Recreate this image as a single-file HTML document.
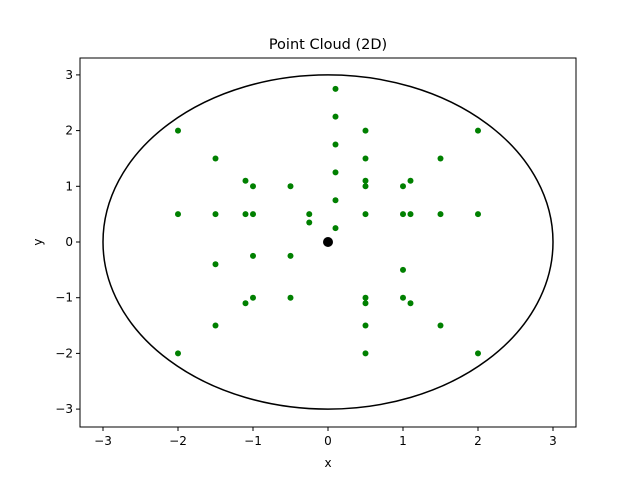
<!DOCTYPE html>
<html><head><meta charset="utf-8"><style>
body{margin:0;background:#fff;font-family:"Liberation Sans","DejaVu Sans",sans-serif}
svg text{font-family:"DejaVu Sans","Liberation Sans",sans-serif}
</style></head><body>
<svg id="chart" width="640" height="480" xmlns="http://www.w3.org/2000/svg">
<rect width="640" height="480" fill="#fff"/>
<text x="328" y="49" font-size="14.5" text-anchor="middle">Point Cloud (2D)</text>
<g id="plot"></g>
<text x="328" y="467" font-size="12" text-anchor="middle">x</text>
<text x="42" y="242" font-size="12" text-anchor="middle" transform="rotate(-90 42 242)">y</text>
</svg>
<script>
const pointsX=[2,-2,-1.5,1.5,-1.1,-1,1,1.1,-0.5,0.1,0.1,0.1,0.1,0.1,0.1,0.5,0.5,0.5,0.5,0.5,-2,-1.5,-1.1,-1,-0.25,-0.25,1,1.1,1.5,2,-1.5,-1,-0.5,1,-0.5,-1,-1.1,1,1.1,0.5,0.5,0.5,0.5,-1.5,1.5,-2,2];
const pointsY=[2,2,1.5,1.5,1.1,1,1,1.1,1,2.75,2.25,1.75,1.25,0.75,0.25,2,1.5,1.1,1,0.5,0.5,0.5,0.5,0.5,0.5,0.35,0.5,0.5,0.5,0.5,-0.4,-0.25,-0.25,-0.5,-1,-1,-1.1,-1,-1.1,-1,-1.1,-1.5,-2,-1.5,-1.5,-2,-2];
const xTicks=[-3,-2,-1,0,1,2,3];
const yTicks=[-3,-2,-1,0,1,2,3];
const circleR=3;
const L=80,R=576,T=58,B=427;
const sx=v=>328+v*75;
const sy=v=>242-v*55.7;
const ns="http://www.w3.org/2000/svg";
const g=document.getElementById('plot');
function mk(t,a){const e=document.createElementNS(ns,t);for(const k in a)e.setAttribute(k,a[k]);g.appendChild(e);return e;}
// circle
const c=mk('ellipse',{cx:sx(0),cy:sy(0),rx:sx(circleR)-sx(0),ry:sy(0)-sy(circleR),fill:'none',stroke:'#000','stroke-width':1.5});


pointsX.forEach((x,i)=>{
 const p=mk('circle',{cx:sx(x),cy:sy(pointsY[i]),r:3,fill:'#008000'});
 
 
});
const o=mk('circle',{cx:sx(0),cy:sy(0),r:5,fill:'#000'});


const fr=mk('rect',{x:L,y:T,width:R-L,height:B-T,fill:'none',stroke:'#000','stroke-width':1});


xTicks.forEach(v=>{
 mk('line',{x1:sx(v),x2:sx(v),y1:B,y2:B+4,stroke:'#000'});
 const t=mk('text',{x:sx(v),y:B+18,'font-size':12,'text-anchor':'middle'});
 t.textContent=v<0?'\u2212'+(-v):v;
 
 
});
yTicks.forEach(v=>{
 mk('line',{x1:L-4,x2:L,y1:sy(v),y2:sy(v),stroke:'#000'});
 const t=mk('text',{x:L-7,y:sy(v)+4,'font-size':12,'text-anchor':'end'});
 t.textContent=v<0?'\u2212'+(-v):v;
 
 
});
</script>
</body></html>
